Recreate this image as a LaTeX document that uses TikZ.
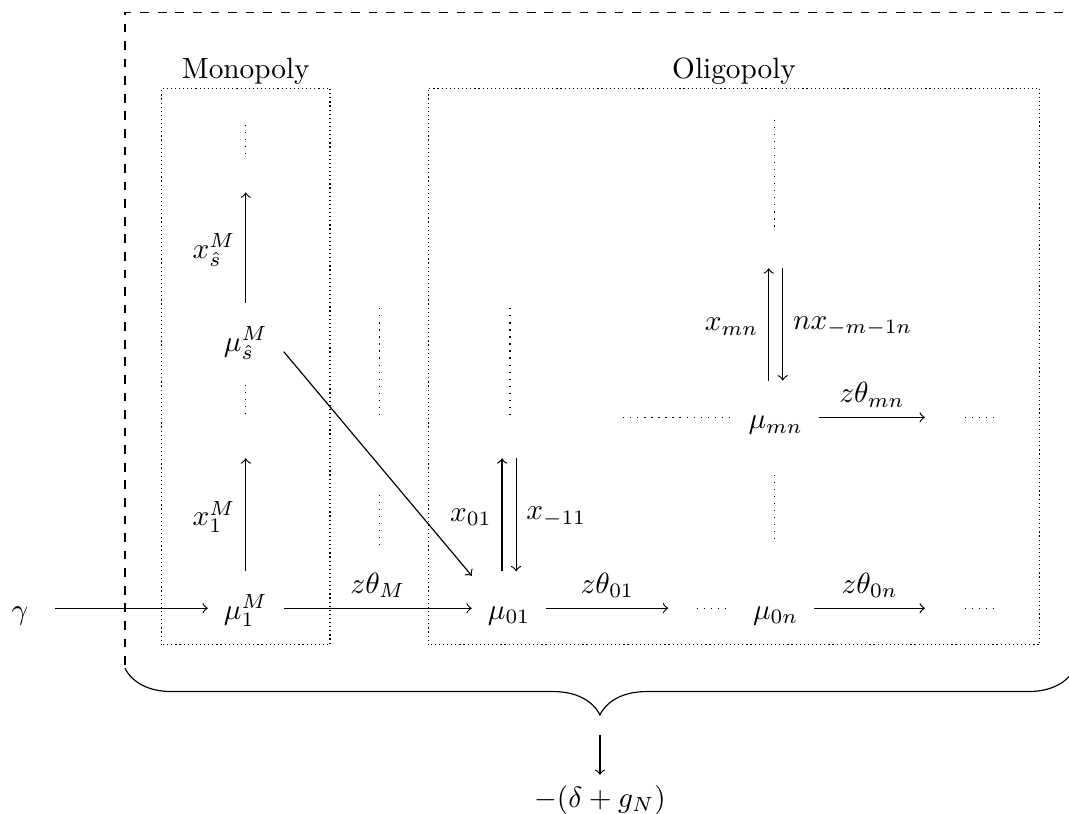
\documentclass[tikz,border=0pt]{standalone}
\usepackage{amsmath}
\usetikzlibrary{decorations.pathreplacing}

\begin{document}
\begin{tikzpicture}[
    st/.style={inner sep=2pt, outer sep=3.5pt, text height=2.2ex, text depth=0.4ex},
    vr/.style={shorten <=1.5pt}
  ]
    \useasboundingbox (0,0) rectangle (12.83,9.76);
    % Outer frame and brace
    \draw[dashed] (1.50,1.78) -- (1.50,9.61) -- (12.9,9.61);
    \draw[decorate, decoration={brace, mirror, amplitude=0.56cm}] (1.50,1.74) -- (12.9,1.74);
    % Boxes
    \draw[densely dotted] (1.94,2.02) rectangle (3.96,8.70);
    \draw[densely dotted] (5.14,2.02) rectangle (12.48,8.70);
    \node[above, inner sep=1pt] (mono) at (2.95,8.70) {Monopoly};
    \node[above, inner sep=1pt] (oligo) at (8.81,8.70) {Oligopoly};
    % States
    \node[st] (gam)  at (0.24,2.46) {$\gamma$};
    \node[st] (mu1M) at (2.95,2.46) {$\mu_1^M$};
    \node[st] (muSM) at (2.95,5.68) {$\mu_{\hat{s}}^M$};
    \node[st] (mu01) at (6.11,2.46) {$\mu_{01}$};
    \node[st] (mu0n) at (9.31,2.46) {$\mu_{0n}$};
    \node[st] (mumn) at (9.31,4.75) {$\mu_{mn}$};
    \node (loss) at (7.20,0.16) {$-(\delta+g_N)$};
    % Free ends
    \coordinate (t1M) at (2.95,4.26);
    \coordinate (tSM) at (2.95,7.45);
    \coordinate (t01) at (6.11,4.26);
    \coordinate (tmn) at (9.31,6.54);
    \coordinate (e01) at (8.02,2.46);
    \coordinate (e0n) at (11.10,2.46);
    \coordinate (emn) at (11.10,4.75);
    \coordinate (brc) at (7.20,0.94);
    % Flows along the rows
    \draw[->, shorten <=3.5pt] (gam) -- (mu1M);
    \draw[->] (mu1M) -- node[above] {$z\theta_M$} (mu01);
    \draw[->] (mu01) -- node[above] {$z\theta_{01}$} (e01);
    \draw[->] (mu0n) -- node[above] {$z\theta_{0n}$} (e0n);
    \draw[->] (mumn) -- node[above] {$z\theta_{mn}$} (emn);
    % Steps up and down
    \draw[->, vr] (mu1M) -- node[left] {$x_1^M$} (t1M);
    \draw[->, vr] (muSM) -- node[left] {$x_{\hat{s}}^M$} (tSM);
    \draw[->, vr] ([xshift=-2.4pt]mu01.north) -- node[left] {$x_{01}$} ([xshift=-2.4pt]t01);
    \draw[<-, vr] ([xshift=2.4pt]mu01.north) -- node[right] {$x_{-11}$} ([xshift=2.4pt]t01);
    \draw[->, vr] ([xshift=-2.4pt]mumn.north) -- node[left] {$x_{mn}$} ([xshift=-2.4pt]tmn);
    \draw[<-, vr] ([xshift=2.4pt]mumn.north) -- node[right] {$nx_{-m-1n}$} ([xshift=2.4pt]tmn);
    \draw[->] ([yshift=-4pt]muSM.east) -- (mu01.north west);
    \draw[->] (brc) -- (loss);
    % Dots
    \foreach \a/\b in {{2.95,8.26}/{2.95,7.90}, {2.95,5.14}/{2.95,4.72},
        {4.55,6.06}/{4.55,4.72}, {4.55,3.82}/{4.55,3.18}, {6.12,6.06}/{6.12,4.72},
        {9.30,8.32}/{9.30,7.00}, {9.30,4.06}/{9.30,3.22},
        {8.36,2.46}/{8.76,2.46}, {11.58,2.46}/{12.0,2.46},
        {7.48,4.75}/{8.82,4.75}, {11.58,4.75}/{12.0,4.75}}
      \draw[dotted] (\a) -- (\b);
\end{tikzpicture}
\end{document}
